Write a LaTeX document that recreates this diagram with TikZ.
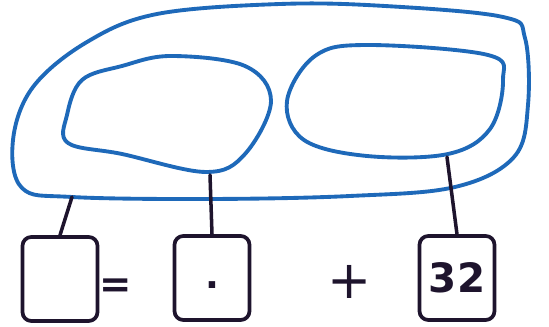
\documentclass[tikz,border=0pt]{standalone}
\usepackage{tikz}
\usepackage{fontspec}
\newfontfamily\markfont{DejaVu Sans}

\definecolor{loopblue}{RGB}{30,105,185}
\definecolor{inkdark}{RGB}{30,20,45}

\begin{document}
\begin{tikzpicture}[x=0.02cm,y=-0.02cm,line cap=round,line join=round]
  \useasboundingbox (0,0) rectangle (549,327);
  \tikzset{
    blob/.style={loopblue,line width=2.2pt},
    slot/.style={draw=inkdark,line width=2.1pt,rounded corners=5pt,
      minimum width=1.5cm,minimum height=1.68cm,inner sep=0pt,text=inkdark},
    wire/.style={inkdark,line width=2pt}
  }
  % the three loops
  \draw[blob] plot[smooth cycle,tension=0.6] coordinates {
    (210,199) (72,197) (22,188) (13,140) (33,87) (87,42) (157,14)
    (280,4) (385,6) (503,17) (525,38) (528,105) (514,157) (455,187) (350,196)};
  \draw[blob] plot[smooth cycle,tension=0.6] coordinates {
    (171,56) (245,66) (271,101) (245,154) (206,172) (122,154)
    (68,143) (67,115) (82,80) (122,66)};
  \draw[blob] plot[smooth cycle,tension=0.6] coordinates {
    (287,101) (315,56) (367,45) (488,55) (503,80) (490,129)
    (448,154) (367,156) (304,140)};
  \coordinate (l1) at (72,197);
  \coordinate (l2) at (210,175);
  \coordinate (l3) at (447,157);
  % boxes of the sum
  \node[slot] (b1) at (60,279) {};
  \node[slot] (b2) at (212,278) {\smash{\raisebox{-0.22cm}{\markfont\bfseries\huge .}}};
  \node[slot] (b3) at (457,278) {\markfont\bfseries\fontsize{23}{23}\selectfont 32};
  \node[inkdark] (eq) at (116,288) {\markfont\bfseries\fontsize{22}{22}\selectfont =};
  \node[inkdark] (pl) at (350,282) {\markfont\fontsize{30}{30}\selectfont +};
  \draw[wire] (l1) -- (b1.north);
  \draw[wire] (l2) -- (b2.north);
  \draw[wire] (l3) -- (b3.north);
\end{tikzpicture}
\end{document}
